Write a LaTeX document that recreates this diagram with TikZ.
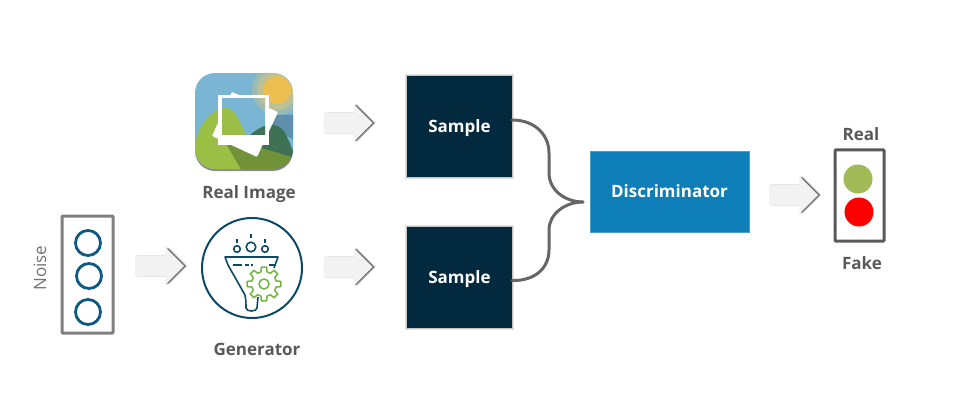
\documentclass[tikz,border=0pt]{standalone}
\usepackage{fontspec}
\usepackage{xcolor}
\setmainfont{Open Sans}
\usetikzlibrary{shapes.arrows,shadows}
\definecolor{navybox}{HTML}{03293F}
\definecolor{discblue}{HTML}{0E7EB8}
\definecolor{ringblue}{HTML}{0F5A82}
\definecolor{iconline}{HTML}{0B4A66}
\definecolor{geargreen}{HTML}{72B544}
\definecolor{labelgrey}{HTML}{595959}
\definecolor{skyblue}{HTML}{7AB5D3}
\definecolor{sunyellow}{HTML}{ECBE50}
\definecolor{haloyellow}{HTML}{C9C48A}
\definecolor{shadeblue}{HTML}{5F8FAD}
\definecolor{hillgreen}{HTML}{9BBF45}
\definecolor{hilldark}{HTML}{3F7155}
\definecolor{hillolive}{HTML}{72923A}
\definecolor{lampgreen}{HTML}{A2B958}
\tikzset{
	samplebox/.style={fill=navybox, text=white, font=\bfseries\fontsize{17}{20}\selectfont, text depth=0pt, minimum width=105pt, minimum height=101pt, inner sep=0pt,
		general shadow={fill=black, shadow scale=1.035, opacity=.1}, general shadow={fill=black, shadow scale=1.018, opacity=.15}},
	flowarrow/.style={single arrow, fill=black!5, minimum height=49pt, inner xsep=0pt, inner ysep=10pt, single arrow head extend=8.5pt, single arrow head indent=0pt,
		general shadow={fill=black, shadow xshift=3.2pt, opacity=.15}, general shadow={fill=black, shadow xshift=2.2pt, opacity=.3}, general shadow={fill=black, shadow xshift=1.1pt, opacity=.45}},
	caption/.style={text=labelgrey, font=\bfseries\fontsize{17}{20}\selectfont, inner sep=0pt},
	ring/.style={circle, draw=ringblue, line width=2.8pt, minimum size=25pt, inner sep=0pt},
	lamp/.style={circle, minimum size=29pt, inner sep=0pt},
	frame/.style={draw=black!50, line width=3pt, rounded corners=0.8pt, inner sep=0pt},
	brace/.style={draw=black!60, line width=3pt, line cap=round},
}
\newcommand{\scenery}{
	\fill [skyblue] (195,73) rectangle (293,169);
	% sun and its halo
	\fill [haloyellow, opacity=.45] (277,90) circle (25);
	\fill [haloyellow, opacity=.7] (277,90) circle (20);
	\fill [shadeblue] (277,115) -- (295,115) -- (295,140) -- (270,127) -- cycle;
	\fill [sunyellow] (277,90) circle (14);
	% hills
	\fill [hilldark] (240,145) .. controls (255,128) and (272,118) .. (283,130) .. controls (288,136) and (291,148) .. (295,155) -- (295,171) -- (240,171) -- cycle;
	\fill [hillgreen] (193,155) .. controls (196,125) and (212,108) .. (226,108) .. controls (240,108) and (240,135) .. (258,150) -- (242,171) -- (193,171) -- cycle;
	\fill [hillolive] (222,137) -- (242,171) -- (295,171) -- (295,158) -- (258,147) -- cycle;
}
\begin{document}
\begin{tikzpicture}[x=1pt,y=-1pt]
	\useasboundingbox (0,0) rectangle (953,401);

	% real image icon
	\fill [black!45, rounded corners=20pt] (195,75) rectangle (293,171);
	\begin{scope}
		\clip [rounded corners=20pt] (195,73) rectangle (293,169);
		\scenery
	\end{scope}
	\fill [white, rounded corners=1pt] (232,92) -- (278,112) -- (257,157) -- (212,136) -- cycle;
	\fill [white] (218,95) rectangle (269,145);
	\begin{scope}
		\clip (222,99) rectangle (265,135);
		\scenery
	\end{scope}
	\node [caption] (realimage) at (249,194) {Real Image};

	% noise column
	\node [frame, minimum width=51pt, minimum height=117pt] (noisebox) at (87.5,274.5) {};
	\node [ring] (n1) at (88,243) {};
	\node [ring] (n2) at (89,276) {};
	\node [ring] (n3) at (88,312) {};
	\node [text=black!55, font=\fontsize{17}{20}\selectfont, rotate=90, inner sep=0pt] (noise) at (40,268) {Noise};

	% generator icon
	\node [circle, draw=iconline, line width=2pt, minimum size=100pt, inner sep=0pt] (gen) at (252,268) {};
	\draw [iconline, line width=1.6pt, line join=round] (237,249) circle (3.3) (251,247) circle (4.8) (265,249) circle (3.3);
	\draw [iconline, line width=1.6pt] (237,239) -- (237,243) (251,234) -- (251,238) (265,239) -- (265,243);
	\draw [iconline, line width=1.6pt, line join=round] (274,268) -- (278,257) -- (225,257) -- (228,265) -- (245,295) .. controls (246,300) and (246,305) .. (246,308) .. controls (246,312) and (257,312) .. (257,308) -- (258,297);
	\draw [iconline, line width=1.6pt] (233,265) -- (242,265) (245,265) -- (249,265) (251,265) -- (253,265) (269,265) -- (275,265);
	\begin{scope}[shift={(264,284)}]
		\draw [fill=white, draw=geargreen, line width=1.5pt, line join=round] (-9:17)
			\foreach \a in {0,45,...,315} { -- (\a-9:17) -- (\a+9:17) -- (\a+14:12.5) -- (\a+31:12.5) } -- cycle;
		\draw [geargreen, line width=1.5pt] (0,0) circle (5);
	\end{scope}
	\node [caption] (generator) at (257,349) {Generator};

	% samples and discriminator
	\node [samplebox] (s1) at (459.5,126.5) {Sample};
	\node [samplebox] (s2) at (459.5,277.5) {Sample};
	\node [fill=discblue, draw=discblue!75!white, text=white, font=\bfseries\fontsize{17}{20}\selectfont, minimum width=159pt, minimum height=81pt, inner sep=0pt] (disc) at (669.5,191.5) {Discriminator};
	\coordinate (tip) at (583,202);
	\draw [brace] ([yshift=6.5pt]s1.east) .. controls (535,120) and (549,135) .. (549,153) -- (549,173) .. controls (549,190) and (565,202) .. (tip);
	\draw [brace] ([yshift=-3pt]s2.east) .. controls (535,281) and (549,268) .. (549,250) -- (549,230) .. controls (549,214) and (565,202) .. (tip);

	% output lamps
	\node [frame, draw=labelgrey, minimum width=49pt, minimum height=91pt] (outbox) at (859.5,195.5) {};
	\node [lamp, fill=lampgreen] (l1) at (858,179) {};
	\node [lamp, fill=red] (l2) at (859,212) {};
	\node [caption] (real) at (861,134) {Real};
	\node [caption] (fake) at (862,263) {Fake};

	% block arrows
	\node [flowarrow] (a1) at (343,123) {};
	\node [flowarrow] (a2) at (343,267) {};
	\node [flowarrow] (a3) at (154.5,266) {};
	\node [flowarrow] (a4) at (788.5,195) {};
\end{tikzpicture}
\end{document}
